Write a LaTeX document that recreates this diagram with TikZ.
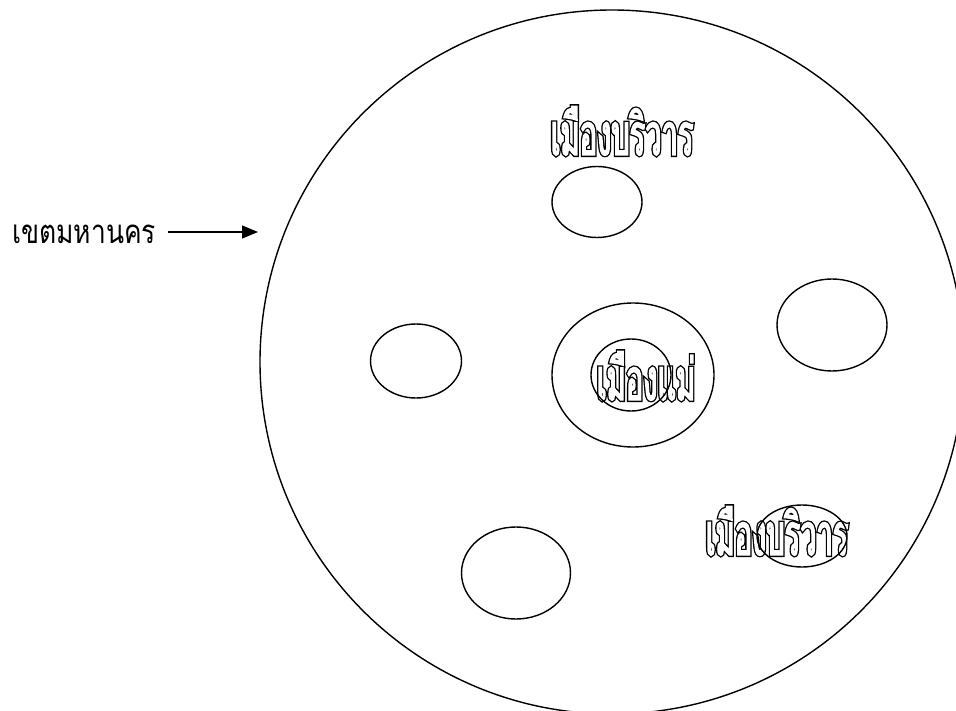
\documentclass[tikz,border=0pt]{standalone}
\usepackage{fontspec}
\usetikzlibrary{shapes.geometric,arrows.meta}

\newfontfamily\thaifont[Script=Thai,FakeStretch=0.8]{Loma}
\newfontfamily\thaiheavy[Script=Thai,FakeStretch=0.5,FakeBold=7]{Loma}
\newfontfamily\thaibold[Script=Thai,FakeStretch=0.5,FakeBold=2.5]{Loma}

% outlined letters: thick black under, white on top
\newcommand{\hollow}[1]{\rlap{\thaiheavy #1}{\color{white}\thaibold #1}}

\tikzset{
  town/.style={draw, ellipse, line width=1.4pt, inner sep=0pt},
  cityname/.style={anchor=base, inner sep=0pt, font=\fontsize{58}{58}\selectfont},
}

\begin{document}
\begin{tikzpicture}[x=1pt, y=-1pt]
    \useasboundingbox (0,0) rectangle (956,711);
    \clip (0,0) rectangle (956,711);

    % Grote cirkel: metropolitan area
    \draw[line width=1.4pt] (612,362) circle (352);

    % Namen (eerst, ellipsen komen erover)
    \node[cityname] (topname) at (622,155) {\hollow{เมืองบริวาร}};
    \node[cityname] (mothername) at (646,400) {\hollow{เมืองแม่}};
    \node[cityname] (sidename) at (777,555) {\hollow{เมืองบริวาร}};

    % Moederstad
    \node[town, minimum width=162, minimum height=144] (mother) at (633,375) {};
    \node[town, minimum width=80, minimum height=72] (core) at (631,375) {};

    % Satellietsteden
    \node[town, minimum width=90, minimum height=71] (satnorth) at (597,202) {};
    \node[town, minimum width=91, minimum height=74] (satwest) at (416,361) {};
    \node[town, minimum width=110, minimum height=92] (sateast) at (832,325) {};
    \node[town, minimum width=109, minimum height=92] (satsouth) at (516,573) {};
    \node[town, minimum width=90, minimum height=62] (satse) at (802,536) {};

    % Label met pijl
    \node[anchor=base west, inner sep=0pt, font=\thaifont\fontsize{33}{33}\selectfont] (metro) at (12,244) {เขตมหานคร};
    \coordinate (tip) at (258,232);
    \draw[line width=1.4pt, -{Triangle[length=16pt,width=13pt]}] (metro.east |- tip) ++(12,0) -- (tip);
\end{tikzpicture}
\end{document}
